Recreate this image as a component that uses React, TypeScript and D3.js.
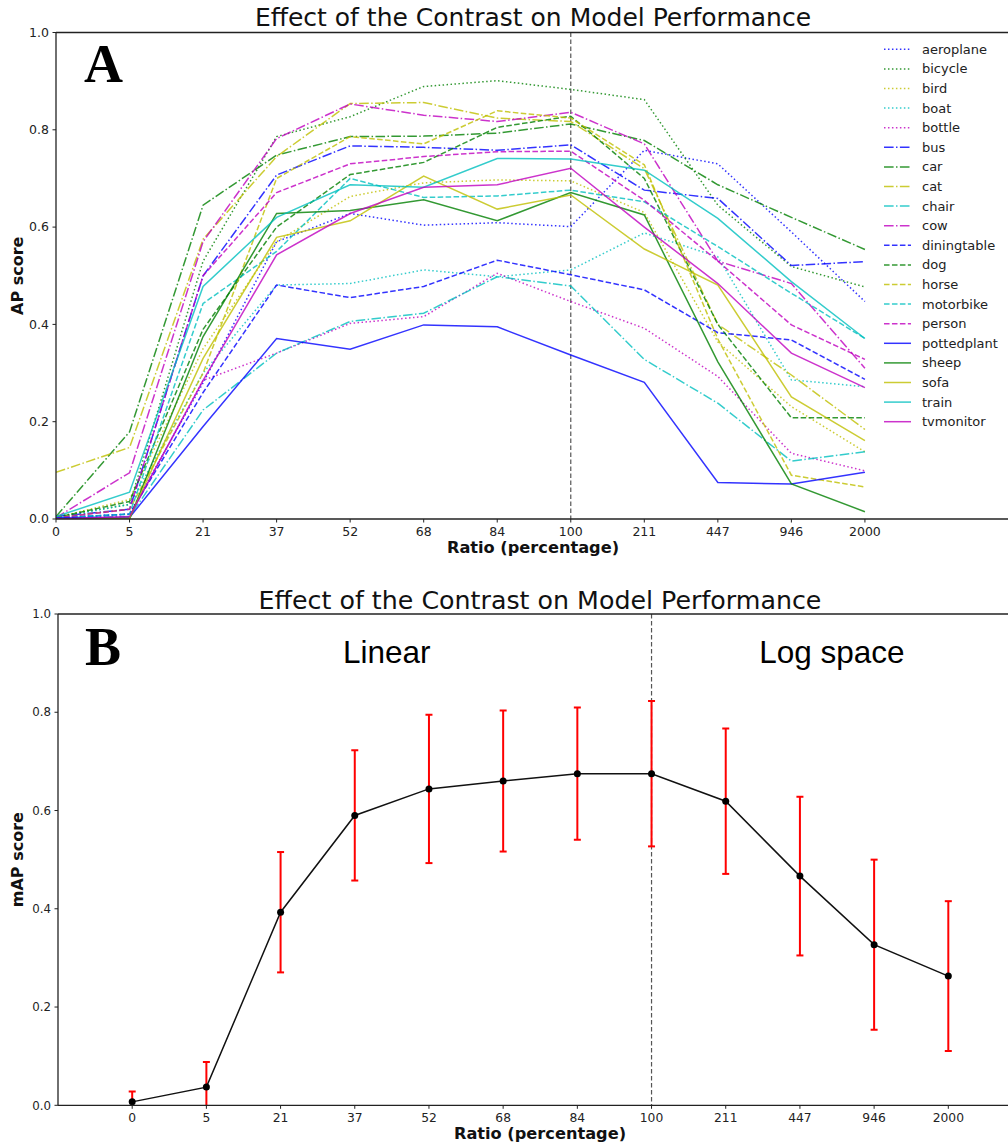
import React from 'react';
import * as d3 from 'd3';

// x categories (contrast ratio, %)
const ratios = ['0', '5', '21', '37', '52', '68', '84', '100', '211', '447', '946', '2000'];
const yTicks = [0, 0.2, 0.4, 0.6, 0.8, 1.0];

// per-class AP scores (panel A)
const aeroplane = [0.003, 0.01, 0.28, 0.57, 0.628, 0.604, 0.609, 0.601, 0.758, 0.73, 0.59, 0.447];
const bicycle = [0.005, 0.03, 0.53, 0.786, 0.827, 0.889, 0.901, 0.883, 0.862, 0.645, 0.519, 0.477];
const bird = [0.003, 0.04, 0.35, 0.57, 0.663, 0.691, 0.697, 0.695, 0.63, 0.364, 0.231, 0.138];
const boat = [0.003, 0.03, 0.3, 0.481, 0.484, 0.512, 0.498, 0.512, 0.588, 0.539, 0.286, 0.272];
const bottle = [0.002, 0.005, 0.285, 0.341, 0.402, 0.416, 0.505, 0.447, 0.392, 0.293, 0.135, 0.099];
const bus = [0.005, 0.02, 0.5, 0.707, 0.767, 0.764, 0.758, 0.769, 0.676, 0.659, 0.521, 0.529];
const car = [0.005, 0.179, 0.645, 0.748, 0.786, 0.787, 0.793, 0.812, 0.778, 0.687, 0.62, 0.554];
const cat = [0.096, 0.147, 0.575, 0.745, 0.854, 0.856, 0.824, 0.817, 0.72, 0.4, 0.296, 0.184];
const chair = [0.003, 0.005, 0.224, 0.341, 0.406, 0.423, 0.498, 0.479, 0.328, 0.238, 0.119, 0.138];
const cow = [0.003, 0.095, 0.57, 0.782, 0.853, 0.83, 0.817, 0.836, 0.771, 0.53, 0.484, 0.31];
const diningtable = [0.002, 0.01, 0.26, 0.481, 0.455, 0.478, 0.532, 0.502, 0.471, 0.383, 0.368, 0.287];
const dog = [0.003, 0.036, 0.39, 0.6, 0.708, 0.733, 0.805, 0.828, 0.7, 0.4, 0.208, 0.208];
const horse = [0.003, 0.02, 0.3, 0.7, 0.786, 0.771, 0.839, 0.824, 0.728, 0.37, 0.09, 0.066];
const motorbike = [0.003, 0.01, 0.443, 0.55, 0.7, 0.661, 0.664, 0.676, 0.652, 0.56, 0.464, 0.371];
const person = [0.002, 0.02, 0.5, 0.671, 0.73, 0.745, 0.755, 0.756, 0.655, 0.53, 0.399, 0.328];
const pottedplant = [0.002, 0.003, 0.19, 0.371, 0.349, 0.399, 0.395, 0.337, 0.281, 0.075, 0.072, 0.096];
const sheep = [0.0, 0.0, 0.375, 0.628, 0.634, 0.656, 0.613, 0.671, 0.625, 0.323, 0.072, 0.015];
const sofa = [0.0, 0.002, 0.33, 0.579, 0.613, 0.705, 0.637, 0.666, 0.555, 0.481, 0.251, 0.161];
const train = [0.005, 0.055, 0.478, 0.62, 0.687, 0.682, 0.741, 0.74, 0.717, 0.618, 0.488, 0.371];
const tvmonitor = [0.0, 0.005, 0.285, 0.543, 0.628, 0.682, 0.687, 0.721, 0.6, 0.484, 0.341, 0.27];

const classNames = ['aeroplane', 'bicycle', 'bird', 'boat', 'bottle', 'bus', 'car', 'cat', 'chair', 'cow',
  'diningtable', 'dog', 'horse', 'motorbike', 'person', 'pottedplant', 'sheep', 'sofa', 'train', 'tvmonitor'];
const apSeries = [aeroplane, bicycle, bird, boat, bottle, bus, car, cat, chair, cow,
  diningtable, dog, horse, motorbike, person, pottedplant, sheep, sofa, train, tvmonitor];

// mean AP and its spread (panel B)
const mapMean = [0.007, 0.037, 0.393, 0.59, 0.644, 0.66, 0.675, 0.675, 0.619, 0.4665, 0.327, 0.263];
const mapStd = [0.021, 0.051, 0.1225, 0.1325, 0.151, 0.1435, 0.1345, 0.148, 0.148, 0.1615, 0.173, 0.1525];

// matplotlib 'b','g','y','c','m' cycle, line styles change every 5 classes
const cycleColors = ['#0000ff', '#008000', '#bfbf00', '#00bfbf', '#bf00bf'];
const dashStyles = ['1.5,2.475', '9.6,2.4,1.5,2.4', '5.55,2.4', 'none'];

const W = 1008;
const H = 1145;
const FONT = 'DejaVu Sans, sans-serif';

const App: React.FC = () => {
  // panel A geometry
  const a = { left: 56, right: 1012, top: 32.5, bottom: 519 };
  const xA = d3.scaleLinear().domain([0, 13]).range([a.left, a.right]);
  const yA = d3.scaleLinear().domain([0, 1]).range([a.bottom, a.top]);
  const lineA = d3.line<number>().x((_, i) => xA(i)).y(d => yA(d));

  // panel B geometry
  const b = { left: 58, right: 1022.5, top: 614, bottom: 1105.3 };
  const xB = d3.scaleLinear().domain([-1, 12]).range([b.left, b.right]);
  const yB = d3.scaleLinear().domain([0, 1]).range([b.bottom, b.top]);
  const lineB = d3.line<number>().x((_, i) => xB(i)).y(d => yB(d));

  const spine = '#222';

  return (
    <svg width={W} height={H} style={{ position: 'absolute', left: 0, top: 0, background: '#fff' }}
      fontFamily={FONT}>
      <defs>
        <clipPath id="clipA"><rect x={a.left} y={a.top} width={a.right - a.left} height={a.bottom - a.top} /></clipPath>
        <clipPath id="clipB"><rect x={b.left} y={b.top} width={b.right - b.left} height={b.bottom - b.top} /></clipPath>
      </defs>
      <rect width={W} height={H} fill="#fff" />

      {/* ---------- panel A ---------- */}
      <text x={533} y={26} textAnchor="middle" fontSize={25} fill="#111">Effect of the Contrast on Model Performance</text>
      <line x1={xA(7)} x2={xA(7)} y1={a.top} y2={a.bottom} stroke="#555" strokeWidth={1.2} strokeDasharray="4.5,2.5" />
      <g clipPath="url(#clipA)">
        {apSeries.map((s, k) => (
          <path key={classNames[k]} d={lineA(s) || ''} fill="none"
            stroke={cycleColors[k % 5]} strokeOpacity={0.8} strokeWidth={1.5}
            strokeDasharray={dashStyles[Math.floor(k / 5)]} />
        ))}
      </g>
      {/* spines */}
      <line x1={a.left} x2={a.left} y1={a.top} y2={a.bottom} stroke={spine} strokeWidth={1.3} />
      <line x1={a.left} x2={W} y1={a.top} y2={a.top} stroke={spine} strokeWidth={1.3} />
      <line x1={a.left} x2={W} y1={a.bottom} y2={a.bottom} stroke={spine} strokeWidth={1.3} />
      {yTicks.map(t => (
        <g key={'ya' + t}>
          <line x1={a.left - 3.5} x2={a.left} y1={yA(t)} y2={yA(t)} stroke={spine} strokeWidth={1} />
          <text x={a.left - 7} y={yA(t) + 4.3} textAnchor="end" fontSize={12.5} fill="#222">{t.toFixed(1)}</text>
        </g>
      ))}
      {ratios.map((r, i) => (
        <g key={'xa' + r}>
          <line x1={xA(i)} x2={xA(i)} y1={a.bottom} y2={a.bottom + 3.5} stroke={spine} strokeWidth={1} />
          <text x={xA(i)} y={a.bottom + 16.5} textAnchor="middle" fontSize={12.5} fill="#222">{r}</text>
        </g>
      ))}
      <text x={533} y={553} textAnchor="middle" fontSize={16.2} fontWeight="bold" fill="#111">Ratio (percentage)</text>
      <text transform={`translate(23,${(a.top + a.bottom) / 2}) rotate(-90)`} textAnchor="middle" fontSize={16}
        fontWeight="bold" fill="#111">AP score</text>
      <text x={84} y={81.5} fontFamily="Liberation Serif, serif" fontWeight="bold" fontSize={54} fill="#000">A</text>
      {/* legend */}
      {classNames.map((n, k) => {
        const y = 49.3 + 19.6 * k;
        return (
          <g key={'lg' + n}>
            <line x1={884} x2={911} y1={y} y2={y} stroke={cycleColors[k % 5]} strokeOpacity={0.8}
              strokeWidth={1.5} strokeDasharray={dashStyles[Math.floor(k / 5)]} />
            <text x={922} y={y + 4.5} fontSize={13} fill="#222">{n}</text>
          </g>
        );
      })}

      {/* ---------- panel B ---------- */}
      <text x={540} y={609} textAnchor="middle" fontSize={25.3} fill="#111">Effect of the Contrast on Model Performance</text>
      <line x1={xB(7)} x2={xB(7)} y1={b.top} y2={b.bottom} stroke="#555" strokeWidth={1.2} strokeDasharray="4.5,2.5" />
      <g clipPath="url(#clipB)">
        {mapMean.map((m, i) => {
          const x = xB(i);
          const y1 = yB(m + mapStd[i]);
          const y2 = yB(m - mapStd[i]);
          return (
            <g key={'eb' + i} stroke="#ff0000" strokeWidth={2}>
              <line x1={x} x2={x} y1={y1} y2={y2} />
              <line x1={x - 3.5} x2={x + 3.5} y1={y1} y2={y1} />
              <line x1={x - 3.5} x2={x + 3.5} y1={y2} y2={y2} />
            </g>
          );
        })}
        <path d={lineB(mapMean) || ''} fill="none" stroke="#111" strokeWidth={1.5} />
        {mapMean.map((m, i) => (
          <circle key={'pt' + i} cx={xB(i)} cy={yB(m)} r={3.5} fill="#000" />
        ))}
      </g>
      <line x1={b.left} x2={b.left} y1={b.top} y2={b.bottom} stroke={spine} strokeWidth={1.3} />
      <line x1={b.left} x2={W} y1={b.top} y2={b.top} stroke={spine} strokeWidth={1.3} />
      <line x1={b.left} x2={W} y1={b.bottom} y2={b.bottom} stroke={spine} strokeWidth={1.3} />
      {yTicks.map(t => (
        <g key={'yb' + t}>
          <line x1={b.left - 3.5} x2={b.left} y1={yB(t)} y2={yB(t)} stroke={spine} strokeWidth={1} />
          <text x={b.left - 7} y={yB(t) + 4.2} textAnchor="end" fontSize={11.8} fill="#222">{t.toFixed(1)}</text>
        </g>
      ))}
      {ratios.map((r, i) => (
        <g key={'xb' + r}>
          <line x1={xB(i)} x2={xB(i)} y1={b.bottom} y2={b.bottom + 3.5} stroke={spine} strokeWidth={1} />
          <text x={xB(i)} y={b.bottom + 16.5} textAnchor="middle" fontSize={12.3} fill="#222">{r}</text>
        </g>
      ))}
      <text x={540} y={1139} textAnchor="middle" fontSize={16.2} fontWeight="bold" fill="#111">Ratio (percentage)</text>
      <text transform={`translate(23,${(b.top + b.bottom) / 2}) rotate(-90)`} textAnchor="middle" fontSize={16}
        fontWeight="bold" fill="#111">mAP score</text>
      <text x={85} y={665} fontFamily="Liberation Serif, serif" fontWeight="bold" fontSize={54} fill="#000">B</text>
      <text x={xB(3.43)} y={yB(0.9)} textAnchor="middle" fontFamily="Liberation Sans, Arial, sans-serif"
        fontSize={31.5} fill="#000">Linear</text>
      <text x={xB(9.43)} y={yB(0.9)} textAnchor="middle" fontFamily="Liberation Sans, Arial, sans-serif"
        fontSize={31.5} fill="#000">Log space</text>
    </svg>
  );
};

export default App;
